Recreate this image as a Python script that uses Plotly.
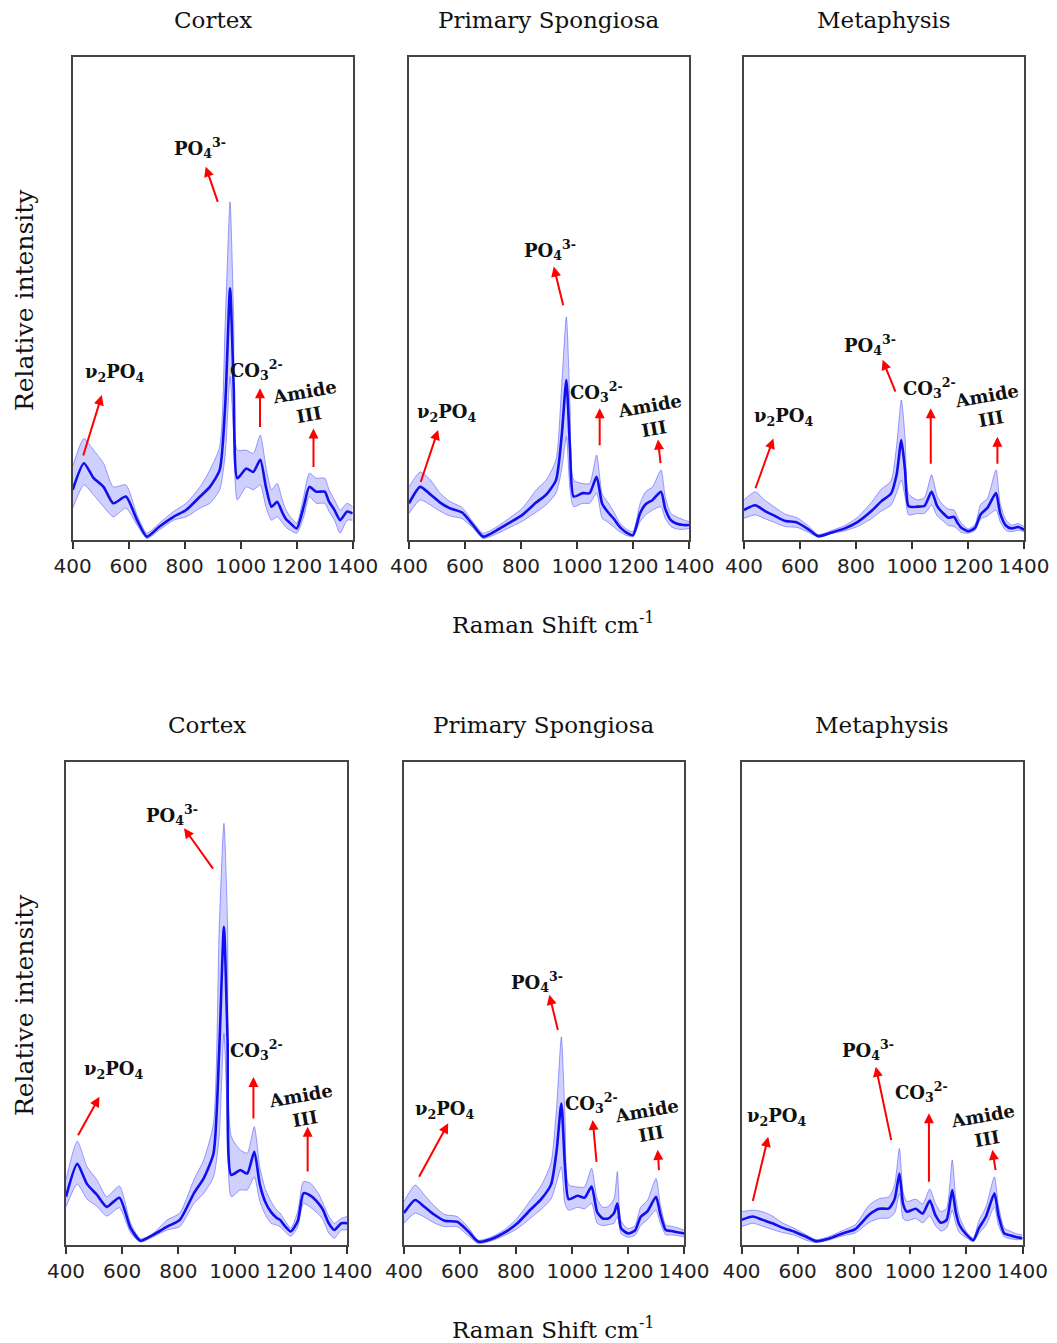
import plotly.graph_objects as go

# ---------------- data ----------------
WAVENUMBER = [400, 440, 475, 510, 545, 590, 630, 665, 710, 760, 805, 855, 890, 925, 945,
              962, 975, 988, 1020, 1045, 1070, 1090, 1110, 1130, 1150, 1162, 1175, 1200,
              1225, 1245, 1270, 1300, 1315, 1335, 1355, 1380, 1400]

PANEL_TITLES = ["Cortex", "Primary Spongiosa", "Metaphysis"]
X_TICKS = [400, 600, 800, 1000, 1200, 1400]

# Row 1
R1_CORTEX_MEAN = [10.4, 15.9, 12.8, 11.0, 7.6, 9.0, 4.1, 0.7, 2.8, 4.8, 6.2, 9.0, 11.0, 14.5, 28.3,
                  52.1, 31.7, 12.8, 14.8, 14.1, 16.6, 11.0, 6.9, 7.9, 5.5, 4.3, 3.6, 2.4,
                  6.9, 11.0, 10.0, 10.0, 8.0, 6.2, 4.1, 5.9, 5.5]
R1_CORTEX_UPPER = [15.2, 21.0, 18.6, 15.9, 11.0, 11.4, 5.2, 1.4, 3.5, 5.9, 7.6, 11.0, 14.5, 19.3, 45.5,
                   70.0, 45.5, 18.6, 18.6, 17.9, 21.7, 15.2, 10.4, 11.7, 8.0, 6.2, 5.0, 3.5,
                   9.0, 13.8, 12.8, 12.8, 10.5, 8.3, 6.2, 7.6, 6.9]
R1_CORTEX_LOWER = [6.6, 11.4, 9.3, 6.9, 4.8, 6.6, 3.1, 0.3, 2.1, 4.1, 4.8, 6.6, 7.6, 10.4, 17.9,
                   33.8, 21.4, 8.3, 11.0, 10.4, 11.4, 6.9, 4.1, 4.8, 3.5, 2.6, 2.1, 1.4,
                   4.8, 9.0, 7.6, 7.6, 6.0, 4.1, 1.4, 4.1, 4.1]

R1_SPONGIOSA_MEAN = [7.6, 11.0, 9.5, 7.8, 6.6, 5.7, 3.0, 0.7, 1.9, 3.6, 5.2, 7.8, 9.4, 12.4, 21.4,
                     33.1, 19.0, 9.0, 9.7, 9.7, 13.1, 7.5, 5.8, 4.5, 2.9, 2.2, 1.6, 1.0,
                     5.5, 7.4, 8.3, 10.0, 6.5, 4.1, 3.4, 3.1, 3.1]
R1_SPONGIOSA_UPPER = [11.0, 14.1, 12.5, 9.8, 8.0, 6.7, 3.6, 1.4, 2.6, 4.6, 6.6, 10.4, 12.4, 16.6, 31.7,
                      46.2, 28.0, 12.4, 11.7, 11.7, 17.6, 9.5, 7.8, 6.0, 3.8, 3.0, 2.3, 1.7,
                      7.5, 10.0, 11.0, 14.5, 9.0, 5.5, 4.8, 4.2, 3.8]
R1_SPONGIOSA_LOWER = [5.5, 8.3, 7.3, 6.0, 5.0, 4.4, 2.4, 0.3, 1.2, 2.6, 3.9, 5.8, 7.3, 9.7, 14.5,
                      21.4, 10.5, 6.9, 7.6, 7.6, 9.7, 4.5, 3.7, 2.8, 1.8, 1.4, 1.0, 0.7,
                      3.8, 5.2, 6.2, 6.9, 4.5, 2.8, 2.3, 2.2, 2.4]

R1_METAPHYSIS_MEAN = [6.2, 7.2, 6.0, 5.0, 4.0, 3.6, 2.2, 0.8, 1.5, 2.4, 3.7, 6.0, 8.0, 9.6, 13.5,
                      20.7, 14.5, 7.0, 6.9, 7.1, 10.0, 7.0, 5.6, 4.6, 4.8, 3.6, 2.6, 1.8,
                      2.5, 5.3, 6.7, 9.7, 5.5, 3.0, 2.4, 2.7, 2.1]
R1_METAPHYSIS_UPPER = [8.3, 10.0, 8.2, 6.8, 5.4, 4.6, 2.9, 1.1, 1.9, 3.0, 4.7, 7.8, 10.5, 12.2, 19.5,
                       29.0, 21.4, 9.5, 8.3, 8.8, 13.5, 9.0, 7.3, 6.4, 6.2, 4.8, 3.6, 2.3,
                       3.2, 7.3, 8.7, 14.5, 7.5, 4.2, 3.1, 3.4, 2.8]
R1_METAPHYSIS_LOWER = [4.5, 5.2, 4.4, 3.6, 2.8, 2.6, 1.6, 0.6, 1.3, 1.9, 2.8, 4.4, 6.0, 7.2, 9.8,
                       12.4, 9.0, 5.2, 5.5, 5.5, 7.2, 5.0, 4.0, 3.0, 2.8, 2.3, 1.6, 1.4,
                       2.0, 4.3, 5.0, 6.2, 3.8, 2.0, 1.7, 2.0, 1.7]

# Row 2
R2_CORTEX_MEAN = [10.0, 16.8, 12.6, 10.4, 7.9, 9.8, 3.5, 0.9, 2.1, 3.8, 5.2, 10.7, 13.8, 19.0, 40.0,
                  65.9, 42.4, 14.5, 15.5, 14.8, 19.3, 12.5, 8.8, 6.8, 5.6, 5.2, 4.2, 2.8,
                  5.0, 10.7, 10.2, 8.5, 7.2, 4.5, 3.1, 4.5, 4.5]
R2_CORTEX_UPPER = [13.5, 21.5, 16.2, 13.5, 10.0, 12.2, 4.5, 1.3, 2.4, 5.2, 6.6, 13.5, 17.6, 25.2, 65.0,
                   87.3, 66.6, 22.5, 19.7, 19.0, 24.5, 16.0, 11.5, 9.0, 7.2, 6.6, 5.4, 3.5,
                   7.0, 13.1, 12.8, 10.5, 8.6, 6.0, 4.5, 5.5, 5.9]
R2_CORTEX_LOWER = [7.9, 12.6, 9.5, 8.0, 6.0, 7.7, 2.5, 0.6, 1.7, 3.1, 3.8, 8.6, 10.7, 14.1, 22.5,
                   43.8, 25.2, 10.0, 11.4, 11.4, 14.1, 9.0, 6.2, 4.5, 4.1, 3.8, 3.0, 1.8,
                   3.8, 8.6, 7.8, 6.3, 5.2, 2.5, 1.4, 3.1, 3.1]

R2_SPONGIOSA_MEAN = [6.6, 9.3, 7.8, 6.2, 5.0, 4.8, 2.8, 0.7, 1.2, 2.6, 4.5, 7.5, 9.5, 12.5, 19.5,
                     29.3, 16.2, 9.5, 10.2, 9.8, 12.1, 6.8, 5.5, 5.5, 6.6, 8.6, 3.5, 2.4,
                     3.0, 5.8, 7.0, 10.0, 6.5, 3.1, 2.9, 2.6, 2.4]
R2_SPONGIOSA_UPPER = [9.0, 12.4, 10.2, 8.0, 6.3, 5.9, 3.6, 1.0, 1.6, 3.2, 5.6, 9.5, 12.3, 17.0, 28.5,
                      43.1, 26.6, 12.5, 12.0, 12.0, 15.9, 9.5, 7.8, 8.0, 9.5, 15.2, 5.0, 3.4,
                      4.0, 7.8, 9.3, 13.8, 8.6, 4.1, 3.9, 3.5, 3.1]
R2_SPONGIOSA_LOWER = [4.5, 6.6, 5.7, 4.5, 3.8, 3.8, 1.9, 0.3, 0.8, 2.0, 3.4, 5.7, 7.4, 9.5, 13.0,
                      16.2, 8.6, 7.2, 7.8, 7.5, 8.6, 4.5, 4.0, 4.2, 4.5, 5.9, 2.4, 1.6,
                      2.0, 4.0, 5.3, 7.2, 4.6, 2.1, 2.1, 1.9, 1.7]

R2_METAPHYSIS_MEAN = [5.2, 5.9, 5.2, 4.5, 3.6, 2.7, 1.7, 0.8, 1.3, 2.4, 3.3, 6.3, 7.5, 7.6, 9.5,
                      14.8, 8.5, 6.9, 7.5, 6.5, 9.2, 6.2, 4.6, 5.2, 11.4, 7.0, 4.2, 2.2,
                      1.0, 3.5, 5.9, 10.7, 6.0, 2.4, 2.0, 1.6, 1.4]
R2_METAPHYSIS_UPPER = [6.9, 7.2, 6.9, 6.0, 4.6, 3.4, 2.1, 1.1, 1.7, 3.0, 4.2, 8.3, 9.6, 10.0, 12.5,
                       20.0, 11.0, 9.0, 9.5, 8.5, 11.6, 8.6, 6.9, 7.6, 17.6, 10.0, 6.0, 2.8,
                       1.4, 5.0, 7.9, 14.1, 8.0, 3.5, 2.9, 2.3, 2.1]
R2_METAPHYSIS_LOWER = [3.8, 4.5, 3.9, 3.2, 2.6, 2.0, 1.0, 0.5, 1.0, 1.9, 2.5, 4.7, 5.5, 5.6, 6.6,
                       10.7, 5.5, 5.0, 5.5, 4.6, 6.0, 4.0, 2.9, 3.5, 7.2, 4.5, 2.6, 1.5,
                       0.7, 2.4, 4.1, 7.9, 4.0, 1.7, 1.3, 1.1, 1.2]

# peak labels
PEAK_LABELS = ["ν<sub>2</sub>PO<sub>4</sub>", "PO<sub>4</sub><sup>3-</sup>",
               "CO<sub>3</sub><sup>2-</sup>", "Amide<br>III"]

# ---------------- layout / placement (not data) ----------------
PAGE_W, PAGE_H = 1057, 1343
BODY_OFFSET = 8  # the html page body margin shifts the figure by this many pixels
W, H = PAGE_W - BODY_OFFSET, PAGE_H - BODY_OFFSET


def fx(px):
    """page pixel x -> paper fraction"""
    return (px - BODY_OFFSET) / W


def fy(py):
    """page pixel y (from top) -> paper fraction"""
    return (H - (py - BODY_OFFSET)) / H


PANEL_PX = [  # (left, right, top, bottom) in page pixels
    (72.7, 352.7, 57, 540), (409, 689, 57, 540), (744, 1024, 57, 540),
    (66, 347, 762, 1245), (404, 684, 762, 1245), (741.5, 1022.5, 762, 1245),
]
# label (x, y), arrow tail (x, y), arrow head (x, y) per label, per panel, in data units
ANNOT_POS = [
    [((551, 34.6), (436, 17.2), (504, 30.0)), ((855, 81.2), (920, 69.7), (875, 77.3)),
     ((1057, 35.2), (1069, 23.1), (1069, 31.4)), ((1236, 28.3), (1260, 14.8), (1260, 23.1))],
    [((533, 26.2), (440, 11.7), (504, 22.8)), ((902, 60.0), (952, 48.3), (917, 56.6)),
     ((1069, 30.7), (1081, 19.3), (1081, 27.3)), ((1265, 25.5), (1299, 15.6), (1289, 20.8))],
    [((540, 25.5), (439, 10.4), (505, 21.0)), ((850, 40.4), (943, 30.4), (895, 37.3)),
     ((1064, 31.4), (1067, 15.5), (1067, 27.3)), ((1273, 27.6), (1305, 15.5), (1305, 21.4))],
    [((569, 36.2), (440, 22.4), (519, 30.7)), ((777, 89.0), (927, 77.6), (820, 86.3)),
     ((1079, 40.4), (1067, 25.9), (1067, 34.8)), ((1240, 28.6), (1260, 14.9), (1260, 24.5))],
    [((546, 27.9), (451, 13.8), (558, 25.2)), ((874, 54.5), (951, 44.2), (919, 51.8)),
     ((1070, 29.3), (1088, 16.9), (1074, 25.9)), ((1273, 25.5), (1311, 15.2), (1306, 19.7))],
    [((525, 26.6), (439, 8.8), (495, 22.4)), ((851, 40.4), (934, 21.4), (878, 36.9)),
     ((1041, 31.7), (1067, 12.8), (1067, 27.3)), ((1266, 24.5), (1305, 15.2), (1293, 19.7))],
]

SERIES = [
    (R1_CORTEX_MEAN, R1_CORTEX_UPPER, R1_CORTEX_LOWER),
    (R1_SPONGIOSA_MEAN, R1_SPONGIOSA_UPPER, R1_SPONGIOSA_LOWER),
    (R1_METAPHYSIS_MEAN, R1_METAPHYSIS_UPPER, R1_METAPHYSIS_LOWER),
    (R2_CORTEX_MEAN, R2_CORTEX_UPPER, R2_CORTEX_LOWER),
    (R2_SPONGIOSA_MEAN, R2_SPONGIOSA_UPPER, R2_SPONGIOSA_LOWER),
    (R2_METAPHYSIS_MEAN, R2_METAPHYSIS_UPPER, R2_METAPHYSIS_LOWER),
]

SERIF = "DejaVu Serif"
fig = go.Figure()
annotations = []
layout_axes = {}

for i, (mean, upper, lower) in enumerate(SERIES):
    k = "" if i == 0 else str(i + 1)
    xa, ya = "x" + k, "y" + k
    band_line = dict(color="rgba(80,80,255,0.55)", width=1, shape="spline", smoothing=0.6)
    fig.add_trace(go.Scatter(x=WAVENUMBER, y=lower, xaxis=xa, yaxis=ya, mode="lines",
                             line=band_line, showlegend=False, hoverinfo="skip"))
    fig.add_trace(go.Scatter(x=WAVENUMBER, y=upper, xaxis=xa, yaxis=ya, mode="lines",
                             line=band_line, fill="tonexty",
                             fillcolor="rgba(110,110,255,0.32)",
                             showlegend=False, hoverinfo="skip"))
    fig.add_trace(go.Scatter(x=WAVENUMBER, y=mean, xaxis=xa, yaxis=ya, mode="lines",
                             line=dict(color="#1010ee", width=2.6, shape="spline", smoothing=0.6),
                             showlegend=False))

    l, r, t, b = PANEL_PX[i]
    layout_axes["xaxis" + k] = dict(
        domain=[fx(l), fx(r)], anchor=ya, range=[400, 1400], tickvals=X_TICKS,
        ticks="outside", ticklen=7, tickwidth=1.5, tickcolor="#333",
        showline=True, linecolor="#444", linewidth=1.5, mirror=True,
        showgrid=False, zeroline=False, tickangle=0, automargin=False,
        tickfont=dict(family="DejaVu Sans", size=20, color="#222"),
    )
    layout_axes["yaxis" + k] = dict(
        domain=[fy(b), fy(t)], anchor=xa, range=[0, 100],
        showticklabels=False, ticks="", showline=True, linecolor="#444", linewidth=1.5,
        mirror=True, showgrid=False, zeroline=False, automargin=False,
    )

    for j, (lab, tail, head) in enumerate(ANNOT_POS[i]):
        annotations.append(dict(
            x=head[0], y=head[1], ax=tail[0], ay=tail[1], xref=xa, yref=ya,
            axref=xa, ayref=ya, text="", showarrow=True, arrowhead=2, arrowsize=1,
            arrowwidth=2, arrowcolor="#ff0000", standoff=0, startstandoff=0))
        annotations.append(dict(
            x=lab[0], y=lab[1], xref=xa, yref=ya, text="<b>" + PEAK_LABELS[j] + "</b>",
            showarrow=False, textangle=-10 if j == 3 else 0,
            xanchor="center", yanchor="middle",
            font=dict(family=SERIF, size=18, color="#111"), align="center"))

    # panel title
    annotations.append(dict(
        x=fx((l + r) / 2), y=fy(t - 37), xref="paper", yref="paper",
        xanchor="center", yanchor="middle",
        text=PANEL_TITLES[i % 3], showarrow=False,
        font=dict(family=SERIF, size=23, color="#111")))

# axis titles
for row_top, row_bottom in [(57, 540), (762, 1245)]:
    annotations.append(dict(
        x=fx(553), y=fy(row_bottom + 83), xref="paper", yref="paper",
        xanchor="center", yanchor="middle",
        text="Raman Shift cm<sup>-1</sup>", showarrow=False,
        font=dict(family=SERIF, size=23, color="#111")))
    annotations.append(dict(
        x=fx(24), y=fy(row_top + 243), xref="paper", yref="paper",
        xanchor="center", yanchor="middle",
        text="Relative intensity", showarrow=False, textangle=-90,
        font=dict(family=SERIF, size=25, color="#111")))

fig.update_layout(
    width=W, height=H, margin=dict(l=0, r=0, t=0, b=0, pad=0, autoexpand=False),
    paper_bgcolor="white", plot_bgcolor="white",
    annotations=annotations, **layout_axes,
)

fig.write_html("out.html")
